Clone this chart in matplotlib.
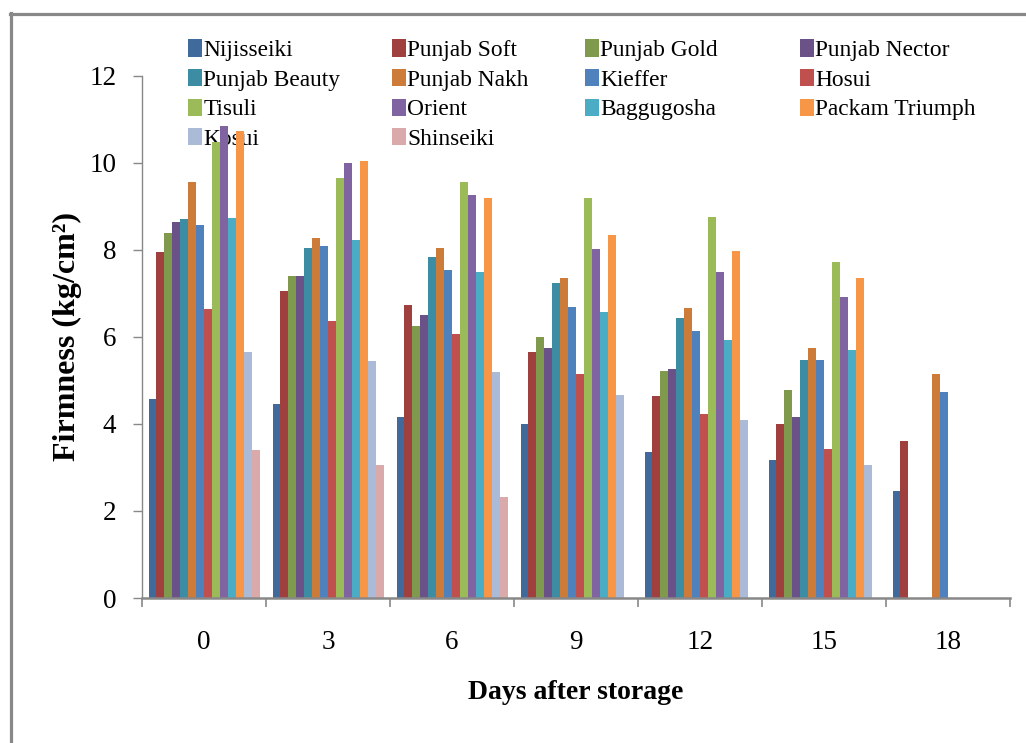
import matplotlib
matplotlib.use('Agg')
import matplotlib.pyplot as plt
import numpy as np
from matplotlib.lines import Line2D
from matplotlib.legend import Legend

plt.rcParams['font.family'] = ['Liberation Serif', 'DejaVu Serif']

days = ['0', '3', '6', '9', '12', '15', '18']

varieties = ['Nijisseiki', 'Punjab Soft', 'Punjab Gold', 'Punjab Nector',
             'Punjab Beauty', 'Punjab Nakh', 'Kieffer', 'Hosui',
             'Tisuli', 'Orient', 'Baggugosha', 'Packam Triumph',
             'Kosui', 'Shinseiki']

nijisseiki = [4.58, 4.46, 4.16, 4.00, 3.35, 3.17, 2.46]
punjab_soft = [7.96, 7.05, 6.73, 5.65, 4.64, 4.00, 3.61]
punjab_gold = [8.38, 7.40, 6.25, 6.00, 5.22, 4.78, 0]
punjab_nector = [8.63, 7.40, 6.50, 5.74, 5.26, 4.16, 0]
punjab_beauty = [8.70, 8.04, 7.84, 7.24, 6.43, 5.47, 0]
punjab_nakh = [9.55, 8.27, 8.04, 7.35, 6.66, 5.74, 5.15]
kieffer = [8.57, 8.09, 7.54, 6.69, 6.14, 5.47, 4.73]
hosui = [6.65, 6.36, 6.07, 5.15, 4.23, 3.42, 0]
tisuli = [10.47, 9.65, 9.56, 9.19, 8.75, 7.72, 0]
orient = [10.85, 10.00, 9.26, 8.02, 7.49, 6.92, 0]
baggugosha = [8.74, 8.23, 7.49, 6.57, 5.93, 5.70, 0]
packam_triumph = [10.73, 10.04, 9.19, 8.34, 7.97, 7.35, 0]
kosui = [5.65, 5.45, 5.19, 4.66, 4.09, 3.06, 0]
shinseiki = [3.41, 3.06, 2.32, 0, 0, 0, 0]

series = [nijisseiki, punjab_soft, punjab_gold, punjab_nector, punjab_beauty,
          punjab_nakh, kieffer, hosui, tisuli, orient, baggugosha,
          packam_triumph, kosui, shinseiki]

colors = ['#416A9C', '#A0403E', '#809A4D', '#6A5187', '#3C8DA4', '#CC7B38',
          '#4F81BD', '#C0504D', '#9BBB59', '#8064A2', '#4BACC6', '#F79646',
          '#AABAD7', '#D9AAA9']

W, H = 1026, 743
fig = plt.figure(figsize=(W / 100, H / 100), dpi=100)
fig.patch.set_facecolor('white')

ax_left, ax_right, ax_bottom, ax_top = 142, 1010, 598, 75.8
ax = fig.add_axes([ax_left / W, 1 - ax_bottom / H,
                   (ax_right - ax_left) / W, (ax_bottom - ax_top) / H])

n = len(series)
x = np.arange(len(days))
group_fill = 111 / 124
bw = group_fill / n
handles = []
for i, (vals, name, c) in enumerate(zip(series, varieties, colors)):
    offs = (i - (n - 1) / 2) * bw
    b = ax.bar(x + offs, vals, width=bw, color=c, label=name, linewidth=0, zorder=2)
    handles.append(b)

ax.set_xlim(-0.5, len(days) - 0.5)
ax.set_ylim(0, 12)
ax.set_yticks(np.arange(0, 13, 2))
ax.set_xticks(x)
ax.set_xticklabels(days)
ax.set_xticks(np.arange(-0.5, len(days), 1), minor=True)

gray = '#888888'
for s in ['top', 'right']:
    ax.spines[s].set_visible(False)
ax.spines['left'].set_color(gray)
ax.spines['left'].set_linewidth(1.0)
ax.spines['bottom'].set_color(gray)
ax.spines['bottom'].set_linewidth(1.8)

ax.tick_params(axis='y', direction='out', length=6.5, width=1.0, color=gray,
               labelsize=19.5, pad=12)
ax.tick_params(axis='x', which='major', length=0, labelsize=19.5, pad=23)
ax.tick_params(axis='x', which='minor', direction='out', length=6.5, width=1.2,
               color=gray)

ax.set_xlabel('Days after storage', fontsize=20, fontweight='bold')
ax.xaxis.set_label_coords(0.5, (598 - 680) / 522.2)
ax.set_ylabel('Firmness (kg/cm²)', fontsize=23, fontweight='bold')
ax.yaxis.set_label_coords((82 - 142) / 868, 0.5)

# legend: four columns, row-major order as in the reference
col_x = [188, 392, 585, 800]
leg_fs = 16.8
for j in range(4):
    hs = handles[j::4]
    labs = varieties[j::4]
    leg = Legend(ax, hs, labs, loc='upper left',
                 bbox_to_anchor=(col_x[j] / W, 1 - 39.5 / H),
                 bbox_transform=fig.transFigure, frameon=False,
                 fontsize=leg_fs, borderpad=0, borderaxespad=0,
                 handlelength=0.58, handleheight=0.75, handletextpad=0.08,
                 labelspacing=0.34)
    leg.set_zorder(1)
    ax.add_artist(leg)

# outer gray frame (top and left visible)
fig.add_artist(Line2D([10 / W, 1.0], [1 - 14 / H, 1 - 14 / H],
                      transform=fig.transFigure, color=gray, linewidth=2.3))
fig.add_artist(Line2D([11 / W, 11 / W], [0.0, 1 - 13 / H],
                      transform=fig.transFigure, color=gray, linewidth=2.3))

fig.savefig('out.png', dpi=100, facecolor='white')
